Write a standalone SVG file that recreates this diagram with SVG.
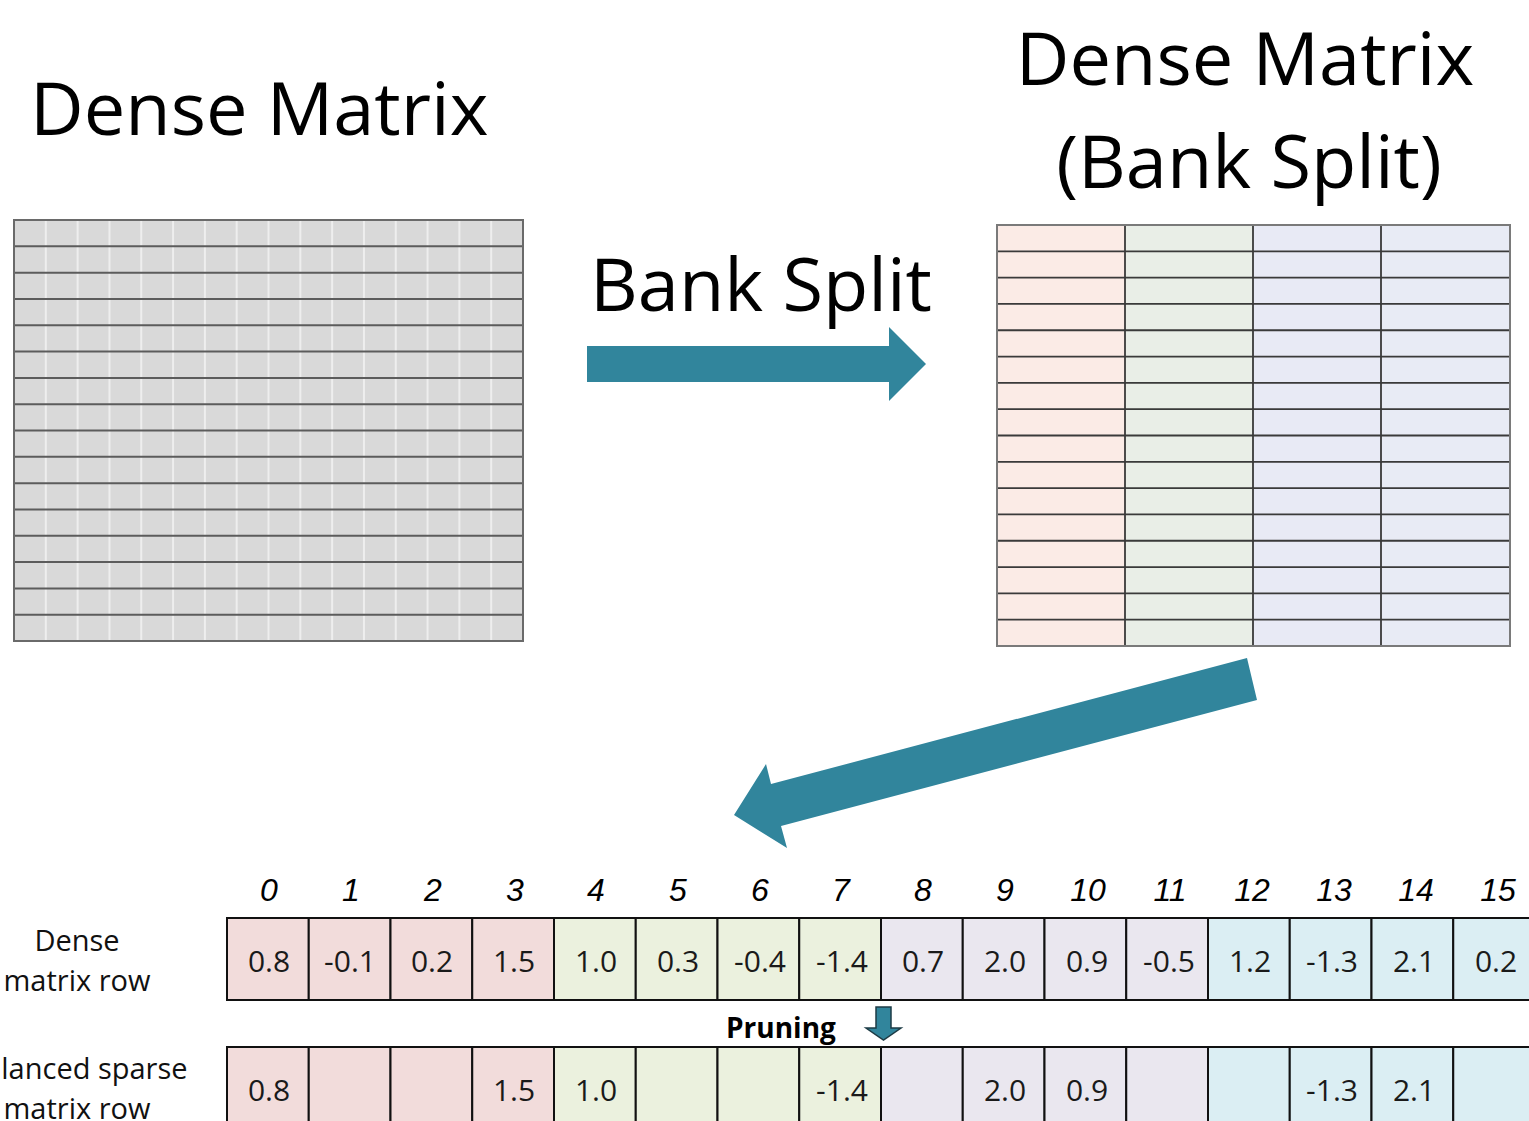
<svg xmlns="http://www.w3.org/2000/svg" width="1529" height="1121" viewBox="0 0 1529 1121">
<style>
.title{font-family:"Open Sans","Liberation Sans",sans-serif;font-size:74px;fill:#000}
.lbl{font-family:"Open Sans","Liberation Sans",sans-serif;font-size:29px;fill:#111;text-anchor:middle}
.idx{font-family:"Liberation Sans",Arial,sans-serif;font-style:italic;font-size:32px;fill:#000;text-anchor:middle}
.val{font-family:"Open Sans","Liberation Sans",sans-serif;font-size:30px;fill:#1a1a1a;text-anchor:middle}
.cell{stroke:#111;stroke-width:2}
.pk{fill:#f2dcdb}.gr{fill:#ebf1de}.lv{fill:#eae7ef}.bl{fill:#dbeef3}
.arrow{fill:#31859c}
</style>
<rect width="1529" height="1121" fill="#fff"/>

<g id="title-dense">
<text class="title" x="30" y="135">Dense Matrix</text>
</g>

<g id="title-bank">
<text class="title" x="1245" y="85" text-anchor="middle">Dense Matrix</text>
<text class="title" x="1249" y="188" text-anchor="middle">(Bank Split)</text>
</g>

<g id="label-bank-split">
<text class="title" x="590" y="311">Bank Split</text>
</g>

<g id="dense-grid">
<rect x="14" y="220" width="509" height="421" fill="#d9d9d9"/>
<path d="M45.81 220V641M77.63 220V641M109.44 220V641M141.25 220V641M173.06 220V641M204.88 220V641M236.69 220V641M268.5 220V641M300.31 220V641M332.13 220V641M363.94 220V641M395.75 220V641M427.56 220V641M459.38 220V641M491.19 220V641" stroke="#eeeeee" stroke-width="2"/>
<path d="M14 246.31H523M14 272.63H523M14 298.94H523M14 325.25H523M14 351.56H523M14 377.88H523M14 404.19H523M14 430.5H523M14 456.81H523M14 483.13H523M14 509.44H523M14 535.75H523M14 562.06H523M14 588.38H523M14 614.69H523" stroke="#5c5c5c" stroke-width="2"/>
<rect x="14" y="220" width="509" height="421" fill="none" stroke="#6a6a6a" stroke-width="2"/>
</g>

<g id="bank-grid">
<rect x="997" y="225" width="128" height="421" fill="#fbebe6"/>
<rect x="1125" y="225" width="128" height="421" fill="#e9eee7"/>
<rect x="1253" y="225" width="128" height="421" fill="#e8eaf5"/>
<rect x="1381" y="225" width="129" height="421" fill="#e8ebf5"/>
<path d="M997 251.31H1510M997 277.63H1510M997 303.94H1510M997 330.25H1510M997 356.56H1510M997 382.88H1510M997 409.19H1510M997 435.5H1510M997 461.81H1510M997 488.13H1510M997 514.44H1510M997 540.75H1510M997 567.06H1510M997 593.38H1510M997 619.69H1510M1125 225V646M1253 225V646M1381 225V646" stroke="#3a3a3a" stroke-width="1.8"/>
<rect x="997" y="225" width="513" height="421" fill="none" stroke="#7a7a7a" stroke-width="2"/>
</g>

<g id="connectors">
<polygon class="arrow" points="587,346 889,346 889,327 926,364 889,401 889,382 587,382"/>
<polygon class="arrow" points="1247,658 1257,700 781,826 787,848 734,815 766,764 771,784"/>
</g>

<g id="index-row">
<text class="idx" x="269" y="901">0</text>
<text class="idx" x="351" y="901">1</text>
<text class="idx" x="433" y="901">2</text>
<text class="idx" x="515" y="901">3</text>
<text class="idx" x="596" y="901">4</text>
<text class="idx" x="678" y="901">5</text>
<text class="idx" x="760" y="901">6</text>
<text class="idx" x="841" y="901">7</text>
<text class="idx" x="923" y="901">8</text>
<text class="idx" x="1005" y="901">9</text>
<text class="idx" x="1088" y="901">10</text>
<text class="idx" x="1170" y="901">11</text>
<text class="idx" x="1252" y="901">12</text>
<text class="idx" x="1334" y="901">13</text>
<text class="idx" x="1416" y="901">14</text>
<text class="idx" x="1498" y="901">15</text>
</g>

<g id="label-dense-row">
<text class="lbl" x="77" y="951">Dense</text>
<text class="lbl" x="77" y="991">matrix row</text>
</g>

<g id="label-sparse-row">
<text class="lbl" x="77" y="1079">Balanced sparse</text>
<text class="lbl" x="77" y="1119">matrix row</text>
</g>

<g id="dense-row">
<rect class="cell pk" x="227" y="918" width="81.75" height="82"/>
<rect class="cell pk" x="308.75" y="918" width="81.75" height="82"/>
<rect class="cell pk" x="390.5" y="918" width="81.75" height="82"/>
<rect class="cell pk" x="472.25" y="918" width="81.75" height="82"/>
<rect class="cell gr" x="554" y="918" width="81.75" height="82"/>
<rect class="cell gr" x="635.75" y="918" width="81.75" height="82"/>
<rect class="cell gr" x="717.5" y="918" width="81.75" height="82"/>
<rect class="cell gr" x="799.25" y="918" width="81.75" height="82"/>
<rect class="cell lv" x="881" y="918" width="81.75" height="82"/>
<rect class="cell lv" x="962.75" y="918" width="81.75" height="82"/>
<rect class="cell lv" x="1044.5" y="918" width="81.75" height="82"/>
<rect class="cell lv" x="1126.25" y="918" width="81.75" height="82"/>
<rect class="cell bl" x="1208" y="918" width="81.75" height="82"/>
<rect class="cell bl" x="1289.75" y="918" width="81.75" height="82"/>
<rect class="cell bl" x="1371.5" y="918" width="81.75" height="82"/>
<rect class="cell bl" x="1453.25" y="918" width="81.75" height="82"/>
<text class="val" x="269" y="972">0.8</text>
<text class="val" x="350" y="972">-0.1</text>
<text class="val" x="432" y="972">0.2</text>
<text class="val" x="514" y="972">1.5</text>
<text class="val" x="596" y="972">1.0</text>
<text class="val" x="678" y="972">0.3</text>
<text class="val" x="760" y="972">-0.4</text>
<text class="val" x="842" y="972">-1.4</text>
<text class="val" x="923" y="972">0.7</text>
<text class="val" x="1005" y="972">2.0</text>
<text class="val" x="1087" y="972">0.9</text>
<text class="val" x="1169" y="972">-0.5</text>
<text class="val" x="1250" y="972">1.2</text>
<text class="val" x="1332" y="972">-1.3</text>
<text class="val" x="1414" y="972">2.1</text>
<text class="val" x="1496" y="972">0.2</text>
</g>

<g id="pruning">
<text x="726" y="1038" font-family="'Open Sans','Liberation Sans',sans-serif" font-weight="bold" font-size="28" fill="#000">Pruning</text>
<polygon points="876,1007 891,1007 891,1028 901,1028 883.5,1040 866,1028 876,1028" fill="#31859c" stroke="#1d3b45" stroke-width="1.5"/>
</g>

<g id="sparse-row">
<rect class="cell pk" x="227" y="1047" width="81.75" height="82"/>
<rect class="cell pk" x="308.75" y="1047" width="81.75" height="82"/>
<rect class="cell pk" x="390.5" y="1047" width="81.75" height="82"/>
<rect class="cell pk" x="472.25" y="1047" width="81.75" height="82"/>
<rect class="cell gr" x="554" y="1047" width="81.75" height="82"/>
<rect class="cell gr" x="635.75" y="1047" width="81.75" height="82"/>
<rect class="cell gr" x="717.5" y="1047" width="81.75" height="82"/>
<rect class="cell gr" x="799.25" y="1047" width="81.75" height="82"/>
<rect class="cell lv" x="881" y="1047" width="81.75" height="82"/>
<rect class="cell lv" x="962.75" y="1047" width="81.75" height="82"/>
<rect class="cell lv" x="1044.5" y="1047" width="81.75" height="82"/>
<rect class="cell lv" x="1126.25" y="1047" width="81.75" height="82"/>
<rect class="cell bl" x="1208" y="1047" width="81.75" height="82"/>
<rect class="cell bl" x="1289.75" y="1047" width="81.75" height="82"/>
<rect class="cell bl" x="1371.5" y="1047" width="81.75" height="82"/>
<rect class="cell bl" x="1453.25" y="1047" width="81.75" height="82"/>
<text class="val" x="269" y="1101">0.8</text>
<text class="val" x="514" y="1101">1.5</text>
<text class="val" x="596" y="1101">1.0</text>
<text class="val" x="842" y="1101">-1.4</text>
<text class="val" x="1005" y="1101">2.0</text>
<text class="val" x="1087" y="1101">0.9</text>
<text class="val" x="1332" y="1101">-1.3</text>
<text class="val" x="1414" y="1101">2.1</text>
</g>
</svg>
